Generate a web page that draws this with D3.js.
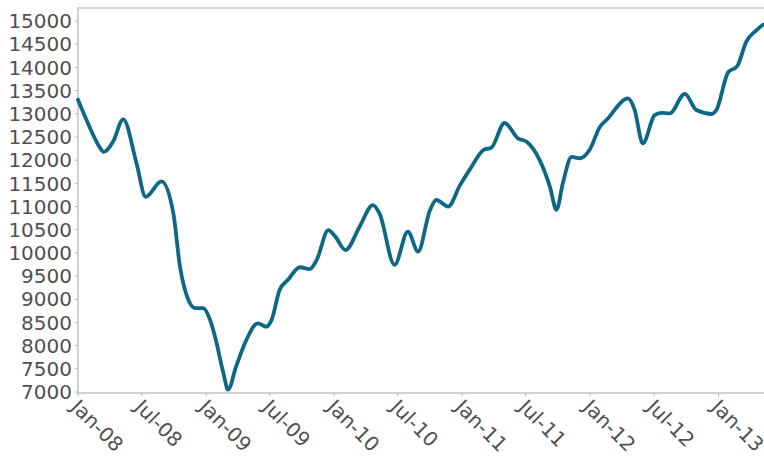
<!DOCTYPE html>
<html lang="en">
<head>
    <meta charset="utf-8"/>
    <title>Index line</title>
    <style>
        body { margin: 0; background: #fff; }
        .frame { fill: none; stroke: #c4c4c4; stroke-width: 1.5px; }
        .tick-label { font-family: "DejaVu Sans", sans-serif; font-size: 20px; fill: #505050; }
        .tick-mark { stroke: #b0b0b0; stroke-width: 1px; }
        .series { fill: none; stroke: #0d6787; stroke-width: 3.8px; stroke-linejoin: round; stroke-linecap: round; }
    </style>
</head>
<body>
<div class="viz"></div>
<script src="https://cdnjs.cloudflare.com/ajax/libs/d3/7.8.5/d3.min.js"></script>
<script>
    // values
    var dates = [
        "2008-01-01", "2008-02-01", "2008-03-01", "2008-03-14", "2008-04-10", "2008-05-09",
        "2008-06-16", "2008-07-12", "2008-08-26", "2008-09-29", "2008-10-18", "2008-11-07",
        "2008-11-30", "2008-12-23", "2009-01-12", "2009-01-26", "2009-02-19", "2009-03-04",
        "2009-03-27", "2009-04-25", "2009-05-28", "2009-06-21", "2009-07-06", "2009-07-29",
        "2009-08-22", "2009-09-25", "2009-10-23", "2009-11-12", "2009-12-15", "2010-01-04",
        "2010-02-02", "2010-03-14", "2010-04-21", "2010-05-10", "2010-06-22", "2010-07-30",
        "2010-08-28", "2010-10-01", "2010-10-19", "2010-11-22", "2010-12-25", "2011-01-23",
        "2011-03-05", "2011-03-24", "2011-05-02", "2011-06-09", "2011-07-03", "2011-08-10",
        "2011-09-08", "2011-09-27", "2011-10-15", "2011-11-09", "2011-12-03", "2011-12-31",
        "2012-01-29", "2012-02-17", "2012-04-18", "2012-05-07", "2012-05-30", "2012-07-03",
        "2012-07-22", "2012-08-15", "2012-09-27", "2012-10-30", "2012-12-13", "2012-12-26",
        "2013-01-29", "2013-02-23", "2013-03-21", "2013-04-19", "2013-05-08"
    ];
    var values = [
        13300, 12750, 12300, 12180, 12400, 12880,
        11930, 11210, 11540, 10850, 9700, 9060,
        8810, 8810, 8550, 8190, 7400, 7050,
        7550, 8120, 8480, 8410, 8550, 9200,
        9420, 9690, 9650, 9850, 10490, 10350,
        10060, 10560, 11030, 10850, 9740, 10460,
        10030, 10920, 11140, 11000, 11450, 11800,
        12230, 12260, 12800, 12470, 12400, 12000,
        11430, 10930, 11500, 12070, 12040, 12230,
        12720, 12870, 13330, 13080, 12360, 12970,
        13020, 13010, 13430, 13080, 12995, 13080,
        13900, 14020, 14550, 14800, 14920
    ];
    var xTickDates = ["2008-01-01", "2008-07-01", "2009-01-01", "2009-07-01", "2010-01-01", "2010-07-01",
        "2011-01-01", "2011-07-01", "2012-01-01", "2012-07-01", "2013-01-01"];
    var xTickLabels = ["Jan-08", "Jul-08", "Jan-09", "Jul-09", "Jan-10", "Jul-10",
        "Jan-11", "Jul-11", "Jan-12", "Jul-12", "Jan-13"];
    var yTicks = [7000, 7500, 8000, 8500, 9000, 9500, 10000, 10500, 11000,
        11500, 12000, 12500, 13000, 13500, 14000, 14500, 15000];

    var width = 764, height = 456;
    var plot = { left: 78, right: 764, top: 8, bottom: 393 };
    var parse = d3.timeParse("%Y-%m-%d");

    var data = dates.map(function (d, i) { return { date: parse(d), value: values[i] }; });

    var x = d3.scaleTime()
        .domain([parse(dates[0]), parse(dates[dates.length - 1])])
        .range([plot.left, plot.right - 1]);

    var y = d3.scaleLinear()
        .domain([7000, 15000])
        .range([392, 21]);

    var svg = d3.select(".viz").append("svg")
        .attr("width", width)
        .attr("height", height);

    // frame (right edge falls off the picture)
    svg.append("path")
        .attr("class", "frame")
        .attr("d", "M" + (plot.right + 2) + "," + plot.top + "H" + plot.left + "V" + plot.bottom + "H" + (plot.right + 2));

    // y axis
    var yg = svg.append("g");
    yg.selectAll("line")
        .data(yTicks)
        .enter().append("line")
        .attr("class", "tick-mark")
        .attr("x1", plot.left - 3).attr("x2", plot.left)
        .attr("y1", function (d) { return y(d); })
        .attr("y2", function (d) { return y(d); });
    yg.selectAll("text")
        .data(yTicks)
        .enter().append("text")
        .attr("class", "tick-label")
        .attr("x", plot.left - 6)
        .attr("y", function (d) { return y(d); })
        .attr("dy", "0.36em")
        .attr("text-anchor", "end")
        .text(function (d) { return d; });

    // x axis
    var xg = svg.append("g");
    xg.selectAll("line")
        .data(xTickDates)
        .enter().append("line")
        .attr("class", "tick-mark")
        .attr("x1", function (d) { return x(parse(d)); })
        .attr("x2", function (d) { return x(parse(d)); })
        .attr("y1", plot.bottom).attr("y2", plot.bottom + 3);
    xg.selectAll("text")
        .data(xTickDates)
        .enter().append("text")
        .attr("class", "tick-label")
        .attr("transform", function (d) { return "translate(" + (x(parse(d)) + 2) + "," + (plot.bottom + 5) + ")rotate(45)"; })
        .attr("dy", "0.72em")
        .attr("text-anchor", "start")
        .text(function (d, i) { return xTickLabels[i]; });

    var line = d3.line()
        .x(function (d) { return x(d.date); })
        .y(function (d) { return y(d.value); })
        .curve(d3.curveMonotoneX);

    svg.append("path")
        .datum(data)
        .attr("class", "series")
        .attr("d", line);
</script>
</body>
</html>
